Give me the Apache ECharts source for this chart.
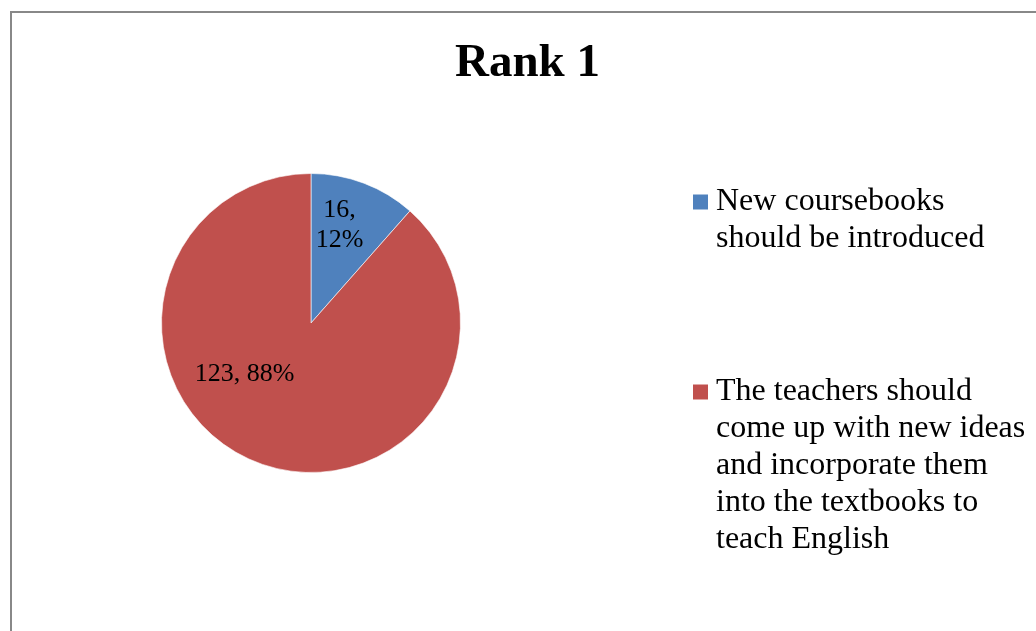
<!DOCTYPE html>
<html>
<head>
<meta charset="utf-8">
<title>Rank 1</title>
<script src="https://cdn.jsdelivr.net/npm/echarts@6/dist/echarts.min.js"></script>
<style>
  html, body { margin: 0; padding: 0; background: #ffffff; }
  #chart { width: 1036px; height: 631px; }
</style>
</head>
<body>
<div id="chart"></div>
<script>
// Survey answers ranked first
const titleText = 'Rank 1';
const categories = [
  'New coursebooks should be introduced',
  'The teachers should come up with new ideas and incorporate them into the textbooks to teach English'
];
const values = [16, 123];
// Legend text broken into lines
const legendLines = [
  ['New coursebooks', 'should be introduced'],
  ['The teachers should', 'come up with new ideas', 'and incorporate them', 'into the textbooks to', 'teach English']
];
const colors = ['#4F81BD', '#C0504D'];

const SERIF = "'Liberation Serif', 'Times New Roman', serif";
const LEGEND_FONT = 32;
const LEGEND_LINE = 37;
// Label nudges away from ECharts' default inside position
const labelShift = [[1, -25], [-39, -22]];

const chart = echarts.init(document.getElementById('chart'), null, { renderer: 'canvas' });

// One legend per entry. Legend text is centred on its icon, so blank lines
// are put in front to bring the first real line level with the icon.
const legends = categories.map(function (name, i) {
  const lines = legendLines[i];
  const pad = new Array(lines.length - 1).fill('');
  return {
    orient: 'vertical',
    left: 693,
    top: [146.5, 225.5][i],
    padding: 0,
    itemWidth: 15,
    itemHeight: 15,
    itemGap: 0,
    icon: 'rect',
    selectedMode: false,
    itemStyle: { borderWidth: 0 },
    data: [name],
    formatter: function () { return pad.concat(lines).join('\n'); },
    textStyle: {
      fontFamily: SERIF,
      fontSize: LEGEND_FONT,
      lineHeight: LEGEND_LINE,
      color: '#000000',
      padding: [0, 0, 0, 3]
    }
  };
});

chart.setOption({
  animation: false,
  backgroundColor: '#ffffff',
  color: colors,
  title: {
    text: titleText,
    left: 455,
    top: 40,
    padding: 0,
    textStyle: {
      fontFamily: SERIF,
      fontSize: 47,
      fontWeight: 'bold',
      color: '#000000'
    }
  },
  legend: legends,
  graphic: [{
    type: 'rect',
    silent: true,
    shape: { x: 11, y: 12, width: 1100, height: 700 },
    style: { fill: 'none', stroke: '#888888', lineWidth: 2 }
  }],
  series: [{
    type: 'pie',
    center: [311, 323],
    radius: 149.5,
    startAngle: 90,
    clockwise: true,
    percentPrecision: 0,
    avoidLabelOverlap: false,
    itemStyle: { borderColor: '#ffffff', borderWidth: 0.6 },
    emphasis: { disabled: true },
    label: {
      show: true,
      position: 'inside',
      fontFamily: SERIF,
      fontSize: 26,
      lineHeight: 30,
      color: '#000000'
    },
    labelLine: { show: false },
    labelLayout: function (params) {
      const s = labelShift[params.dataIndex];
      return { dx: s[0], dy: s[1] };
    },
    data: categories.map(function (name, i) {
      return {
        name: name,
        value: values[i],
        label: { formatter: i === 0 ? '{c},\n{d}%' : '{c}, {d}%' }
      };
    })
  }]
});
</script>
</body>
</html>
